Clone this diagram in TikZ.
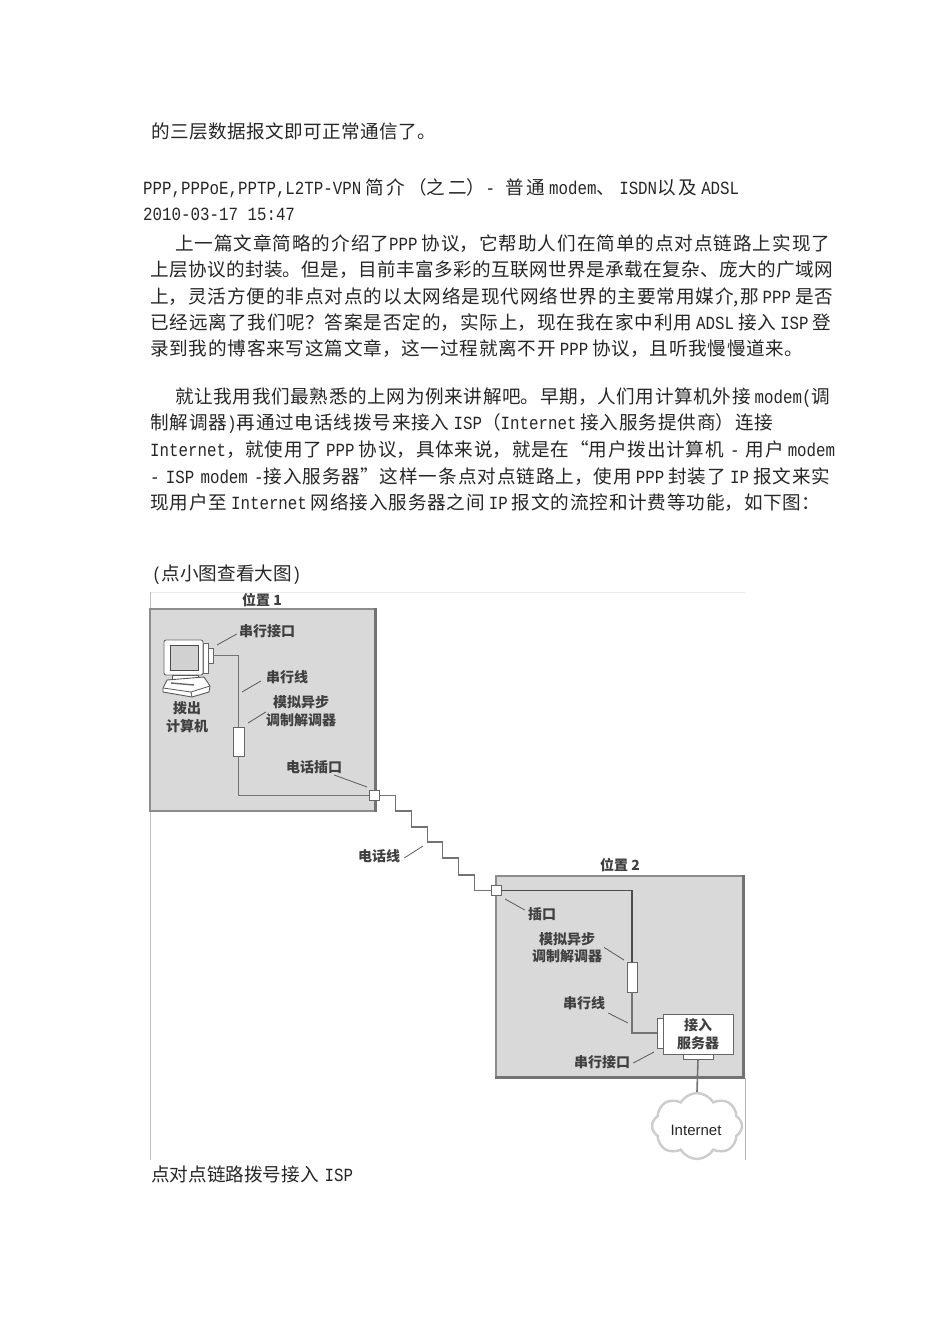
\documentclass[tikz,border=0pt]{standalone}
\usepackage{fontspec}
\usetikzlibrary{shapes.symbols}
\setmainfont{Noto Sans CJK SC}
\newfontfamily\latinfont[FakeStretch=0.85]{Liberation Mono}
\newfontfamily\cloudfont{Liberation Sans}
\XeTeXlinebreaklocale "zh"
\XeTeXlinebreakskip=0pt plus 3pt
\newcommand{\la}[1]{{\latinfont #1}}
\newcommand{\gp}{\hspace{4pt}}
\newcommand{\fitl}[1]{\tolerance=9999\hbadness=10000\parindent=0pt\leftskip=0pt\rightskip=0pt\parfillskip=0pt #1\unskip\par}
\tikzset{
    bodyline/.style={anchor=base west, inner sep=0pt, font=\fontsize{18.6}{20}\selectfont, text=black!85},
    tag/.style={inner sep=0pt, align=center, font=\fontsize{14}{17.5}\selectfont\bfseries, text=black!75},
    lead/.style={draw=black!65, line width=0.8pt},
    wire/.style={draw=black!55, line width=1.6pt},
    part/.style={draw=black!60, line width=0.9pt, fill=white, inner sep=0pt},
    room/.style={draw=black!45, line width=1.2pt, fill=black!15, inner sep=0pt}
}
\begin{document}
\begin{tikzpicture}[x=1pt,y=-1pt]
    \useasboundingbox (0,0) rectangle (950,1344);

    % text above the figure
    \node (t1) at (151,138) [bodyline, text width=285pt] {\fitl{的三层数据报文即可正常通信了。}};
    \node (t2) at (143,194) [bodyline, text width=596pt] {\fitl{\la{PPP,PPPoE,PPTP,L2TP-VPN}\gp 简介（之二）\la{- }\gp 普通\gp\la{modem}、\gp\la{ISDN}以及\gp\la{ADSL}}};
    \node (t3) at (143,220) [bodyline] {\la{2010-03-17 15:47}};

    \node (p1) at (175,250) [bodyline, text width=655pt] {\fitl{上一篇文章简略的介绍了\la{PPP}\gp 协议，它帮助人们在简单的点对点链路上实现了}};
    \node (p2) at (150,276) [bodyline, text width=683pt] {\fitl{上层协议的封装。但是，目前丰富多彩的互联网世界是承载在复杂、庞大的广域网}};
    \node (p3) at (150,303) [bodyline, text width=683pt] {\fitl{上，灵活方便的非点对点的以太网络是现代网络世界的主要常用媒介,那\gp\la{PPP}\gp 是否}};
    \node (p4) at (150,329) [bodyline, text width=681pt] {\fitl{已经远离了我们呢？答案是否定的，实际上，现在我在家中利用\gp\la{ADSL}\gp 接入\gp\la{ISP}\gp 登}};
    \node (p5) at (150,355) [bodyline, text width=653pt] {\fitl{录到我的博客来写这篇文章，这一过程就离不开\gp\la{PPP}\gp 协议，且听我慢慢道来。}};

    \node (q1) at (175,403) [bodyline, text width=655pt] {\fitl{就让我用我们最熟悉的上网为例来讲解吧。早期，人们用计算机外接\gp\la{modem(}调}};
    \node (q2) at (150,429) [bodyline, text width=623pt] {\fitl{制解调器\la{)}再通过电话线拨号来接入\gp\la{ISP}（\la{Internet}\gp 接入服务提供商）连接}};
    \node (q3) at (150,456) [bodyline, text width=685pt] {\fitl{\la{Internet}，就使用了\gp\la{PPP}\gp 协议，具体来说，就是在“用户拨出计算机\la{ - }用户\gp\la{modem}}};
    \node (q4) at (150,483) [bodyline, text width=680pt] {\fitl{\la{- ISP modem -}接入服务器”这样一条点对点链路上，使用\gp\la{PPP}\gp 封装了\gp\la{IP}\gp 报文来实}};
    \node (q5) at (150,509) [bodyline, text width=670pt] {\fitl{现用户至\gp\la{Internet}\gp 网络接入服务器之间\gp\la{IP}\gp 报文的流控和计费等功能，如下图：}};

    \node (t4) at (152,580) [bodyline] {\la{(}点小图查看大图\la{)}};
    \node (t5) at (151,1181) [bodyline] {点对点链路拨号接入\hspace{6pt}\la{ISP}};

    % frame of the figure
    \draw[black!8, line width=0.8pt] (150,592) -- (745,592);
    \draw[black!25, line width=0.8pt] (150,592) -- (150,1160);
    \draw[black!30, line width=0.8pt] (745,1078) -- (745,1160);

    % location 1
    \node (room1) at (262.5,710) [room, minimum width=225pt, minimum height=202pt] {};
    \draw[black!55, line width=2.6pt] (room1.north east) -- (room1.south east);
    \node (name1) at (262,600) [tag] {位置 1};

    \node (port1) at (210.5,655.5) [part, minimum width=5pt, minimum height=15pt] {};
    \node (side1) at (205.5,658) [part, minimum width=5pt, minimum height=30pt] {};
    \node (monitor) at (183.5,657.5) [part, rounded corners=2pt, minimum width=39pt, minimum height=35pt] {};
    \node (screen) at (184,657.5) [draw=black!70, line width=0.8pt, fill=black!18, inner sep=0pt, minimum width=28pt, minimum height=25pt] {};
    \draw[black!65, line width=0.9pt, fill=white] (172,675) rectangle (198,680);
    \draw[black!65, line width=0.9pt, fill=white] (167,680) -- (204,677) -- (210,686) -- (209,692) -- (192,697) -- (163,692) -- (163,688) -- cycle;
    \draw[black!65, line width=0.8pt] (163,688) -- (191,692) -- (210,686) (191,692) -- (192,697);
    \draw[black!60, line width=1.4pt] (171,683) -- (194,685);
    \node (pc) at (187,717) [tag] {拨出\\计算机};

    \node (modem1) at (238.5,741.5) [part, minimum width=11pt, minimum height=29pt] {};
    \node (socket1) at (374,795.5) [part, minimum width=10pt, minimum height=10pt] {};

    \draw[wire] (port1.east) -| (modem1.north);
    \draw[wire] (modem1.south) |- (socket1.west);

    \node (lb1) at (267,631) [tag] {串行接口};
    \node (lb2) at (287,677) [tag] {串行线};
    \node (lb3) at (301,711) [tag] {模拟异步\\调制解调器};
    \node (lb4) at (314,767) [tag] {电话插口};
    \coordinate (c1) at (217,645);
    \coordinate (c2) at (242,692);
    \coordinate (c3) at (248,723);
    \coordinate (c4) at (367,787);
    \draw[lead] (lb1.west) ++(-2,3) -- (c1);
    \draw[lead] (lb2.west) ++(-5,4) -- (c2);
    \draw[lead] (lb3.west) ++(0,1) -- (c3);
    \draw[lead] (lb4.east) ++(-8,8) -- (c4);

    % location 2
    \node (room2) at (619.5,976.5) [room, minimum width=247pt, minimum height=201pt] {};
    \draw[black!55, line width=2.6pt] (room2.north east) -- (room2.south east) -- (room2.south west);
    \node (name2) at (620,865) [tag] {位置 2};

    \node (socket2) at (496,890.5) [part, minimum width=10pt, minimum height=10pt] {};
    \node (modem2) at (632,977) [part, minimum width=10pt, minimum height=30pt] {};
    \node (port2) at (660,1033) [part, minimum width=6pt, minimum height=30pt] {};
    \node (server) at (698,1034) [part, minimum width=70pt, minimum height=40pt, tag] {接入\\服务器};
    \node (port3) at (698,1056.5) [part, minimum width=30pt, minimum height=5pt] {};

    % phone line
    \draw[wire] (socket1.east) -- ++(16,0) -- ++(0,15.5) -- ++(16,0) -- ++(0,16) -- ++(16,0) -- ++(0,15)
        -- ++(15,0) -- ++(0,16) -- ++(16,0) -- ++(0,17) -- ++(16,0) -- ++(0,15.5) -- (socket2.west);
    \draw[wire, draw=black!70] (socket2.east) -| (modem2.north);
    \draw[wire] (modem2.south) |- (port2.west);

    \node (inet) at (697,1126) [cloud, cloud puffs=8, cloud puff arc=120, aspect=1.4, draw=black!20, line width=2.4pt, fill=white, minimum width=90pt, minimum height=66pt, inner sep=0pt] {};
    \node (inetname) at (696,1130) [inner sep=0pt, font=\fontsize{15}{17}\cloudfont, text=black!85] {Internet};
    \draw[wire] (port3.south) -- (inet.north);

    \node (lb5) at (379,856) [tag] {电话线};
    \node (lb6) at (542,914) [tag] {插口};
    \node (lb7) at (567,947.5) [tag] {模拟异步\\调制解调器};
    \node (lb8) at (584,1003) [tag] {串行线};
    \node (lb9) at (602,1062) [tag] {串行接口};
    \coordinate (c5) at (423,846);
    \coordinate (c6) at (505,899);
    \coordinate (c7) at (624,960);
    \coordinate (c8) at (628,1023);
    \coordinate (c9) at (654,1052);
    \draw[lead] (lb5.east) ++(4,2) -- (c5);
    \draw[lead] (lb6.west) ++(-3,-4) -- (c6);
    \draw[lead] (lb7.east) ++(2,0) -- (c7);
    \draw[lead] (lb8.east) ++(3,10) -- (c8);
    \draw[lead] (lb9.east) ++(3,1) -- (c9);
\end{tikzpicture}
\end{document}
